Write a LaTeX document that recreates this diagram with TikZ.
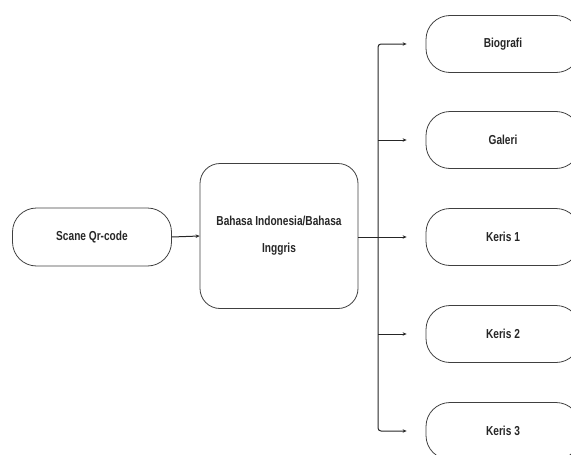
\documentclass[tikz,border=0pt]{standalone}
\usepackage{fontspec}
\setmainfont{Liberation Sans}[FakeStretch=0.78]
\usetikzlibrary{arrows.meta}
\begin{document}
\begin{tikzpicture}[x=1pt,y=-1pt,
  box/.style={draw=black!75, line width=0.8pt, rounded corners=24pt, align=center,
    font=\bfseries\fontsize{13}{27}\selectfont, text=black!85, inner sep=0pt},
  conn/.style={draw=black!85, line width=1pt},
  arr/.style={conn, -{Stealth[length=4pt,width=3.5pt]}}]
\useasboundingbox (0,0) rectangle (571,455);
\node[box, minimum width=159pt, minimum height=58pt] (scan) at (92,237) {Scane Qr-code};
\node[box, rounded corners=20pt, minimum width=158pt, minimum height=145pt] (bhs) at (279,236) {Bahasa Indonesia/Bahasa\\Inggris};
\foreach \n/\t/\y in {bio/Biografi/44, gal/Galeri/140, k1/Keris 1/237, k2/Keris 2/334, k3/Keris 3/431}{
  \node[box, minimum width=154pt, minimum height=57pt] (\n) at (503,\y) {\t};
}
\draw[arr] (scan.east) -- (bhs.west);
\coordinate (tr) at (378,237);
\draw[conn] (bhs.east |- tr) -- (tr);
\draw[arr, shorten >=19pt] (tr) -- (k1.west);
\draw[arr, shorten >=19pt, rounded corners=3pt] (tr) -- (tr |- bio.west) -- (bio.west);
\draw[arr, shorten >=19pt, rounded corners=3pt] (tr) -- (tr |- k3.west) -- (k3.west);
\draw[arr, shorten >=19pt] (tr |- gal.west) -- (gal.west);
\draw[arr, shorten >=19pt] (tr |- k2.west) -- (k2.west);
\end{tikzpicture}
\end{document}
